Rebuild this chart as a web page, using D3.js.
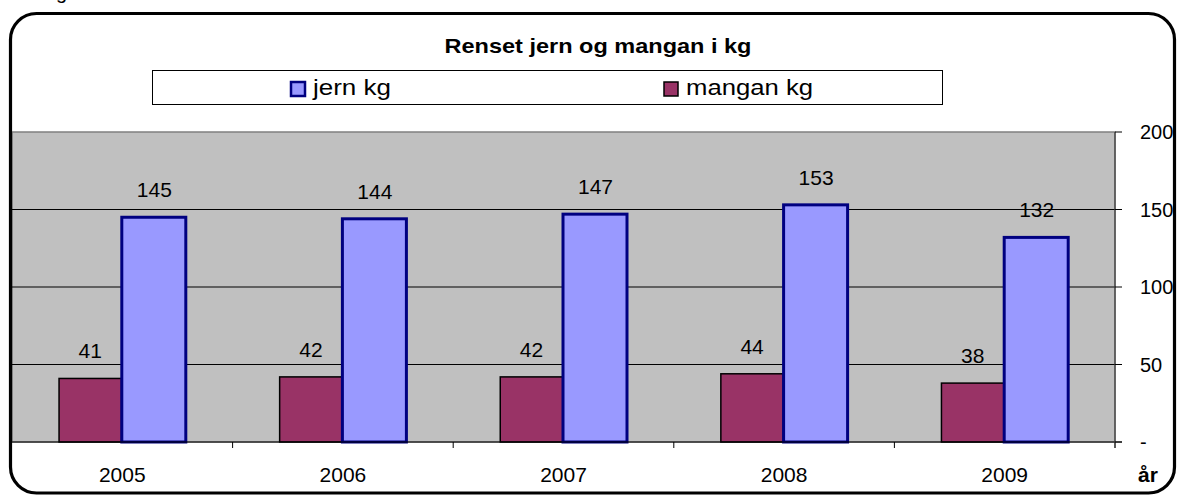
<!DOCTYPE html>
<html lang="en">
<head>
<meta charset="utf-8">
<title>Renset jern og mangan i kg</title>
<script src="https://d3js.org/d3.v7.min.js"></script>
<style>
  body { margin: 0; background: #fff; }
  svg text { font-family: "Liberation Sans", Arial, sans-serif; fill: #000; }
</style>
</head>
<body>
<script>
// data
var years = ["2005", "2006", "2007", "2008", "2009"];
var mangan = [41, 42, 42, 44, 38];
var jern = [145, 144, 147, 153, 132];
var seriesNames = ["mangan kg", "jern kg"];
var yTicks = [0, 50, 100, 150, 200];

var W = 1177, H = 496;
var plot = {left: 12, right: 1115, top: 132, bottom: 442};

var svg = d3.select("body").append("svg")
    .attr("width", W).attr("height", H);

// stray descender from text above the chart
svg.append("text").attr("x", 56).attr("y", -1)
    .style("font-size", "20px").text("g");

var x0 = d3.scaleBand().domain(years).range([plot.left, plot.right]).padding(0);
var barW = 64;
var x1 = d3.scaleBand().domain(seriesNames).range([0, barW * 2]).padding(0);
var y = d3.scaleLinear().domain([0, 200]).range([plot.bottom, plot.top]);

// plot background
svg.append("rect")
    .attr("x", plot.left).attr("y", plot.top)
    .attr("width", plot.right - plot.left).attr("height", plot.bottom - plot.top)
    .attr("fill", "#c0c0c0")
    .attr("stroke", "#808080").attr("stroke-width", 1.5);

// gridlines
svg.selectAll(".grid")
    .data(yTicks.filter(function(d) { return d > 0 && d < 200; }))
    .enter().append("line")
    .attr("x1", plot.left).attr("x2", plot.right)
    .attr("y1", function(d) { return y(d); })
    .attr("y2", function(d) { return y(d); })
    .attr("stroke", "#000").attr("stroke-width", 1);

var rows = years.map(function(yr, i) {
    return {year: yr, values: [
        {key: "mangan kg", v: mangan[i]},
        {key: "jern kg", v: jern[i]}
    ]};
});

var groups = svg.selectAll(".grp").data(rows).enter().append("g")
    .attr("transform", function(d) {
        return "translate(" + (x0(d.year) + x0.bandwidth() / 2 - barW) + ",0)";
    });

groups.selectAll("rect").data(function(d) { return d.values; })
    .enter().append("rect")
    .attr("x", function(d) { return x1(d.key) + (d.key === "jern kg" ? -0.5 : 0.75); })
    .attr("width", function(d) { return d.key === "jern kg" ? barW : barW - 1.5; })
    .attr("y", function(d) { return y(d.v); })
    .attr("height", function(d) { return y(0) - y(d.v); })
    .attr("fill", function(d) { return d.key === "jern kg" ? "#9999ff" : "#993366"; })
    .attr("stroke", function(d) { return d.key === "jern kg" ? "#000080" : "#000"; })
    .attr("stroke-width", function(d) { return d.key === "jern kg" ? 3 : 1.5; });

groups.selectAll(".lbl").data(function(d) { return d.values; })
    .enter().append("text")
    .attr("class", "lbl")
    .attr("x", function(d) { return x1(d.key) + barW / 2; })
    .attr("y", function(d) { return y(d.v) - 20; })
    .attr("text-anchor", "middle")
    .style("font-size", "21px")
    .text(function(d) { return d.v; });

// bottom axis line + ticks
svg.append("line")
    .attr("x1", plot.left).attr("x2", plot.right + 7)
    .attr("y1", plot.bottom).attr("y2", plot.bottom)
    .attr("stroke", "#000").attr("stroke-width", 1.2);
var bounds = years.map(function(d) { return x0(d); }).concat([plot.right]);
svg.selectAll(".xtick").data(bounds.slice(1)).enter().append("line")
    .attr("x1", function(d) { return d; }).attr("x2", function(d) { return d; })
    .attr("y1", plot.bottom).attr("y2", plot.bottom + 6)
    .attr("stroke", "#000").attr("stroke-width", 1);

svg.selectAll(".xlab").data(years).enter().append("text")
    .attr("x", function(d) { return x0(d) + x0.bandwidth() / 2; })
    .attr("y", 482)
    .attr("text-anchor", "middle")
    .style("font-size", "21px")
    .text(function(d) { return d; });

svg.append("text").attr("x", 1138).attr("y", 482)
    .style("font-size", "21px").style("font-weight", "bold")
    .text("år");

// right axis
svg.append("line")
    .attr("x1", plot.right).attr("x2", plot.right)
    .attr("y1", plot.top).attr("y2", plot.bottom + 6)
    .attr("stroke", "#404040").attr("stroke-width", 1.2);
svg.selectAll(".ytick").data(yTicks).enter().append("line")
    .attr("x1", plot.right).attr("x2", plot.right + 7)
    .attr("y1", function(d) { return y(d); })
    .attr("y2", function(d) { return y(d); })
    .attr("stroke", "#000").attr("stroke-width", 1);
svg.selectAll(".ylab").data(yTicks).enter().append("text")
    .attr("x", 1140)
    .attr("y", function(d) { return y(d) + 7; })
    .style("font-size", "20px")
    .text(function(d) { return d === 0 ? "-" : d; });

// title
svg.append("text").attr("x", 598).attr("y", 53)
    .attr("text-anchor", "middle")
    .attr("textLength", 307).attr("lengthAdjust", "spacingAndGlyphs")
    .style("font-size", "21px").style("font-weight", "bold")
    .text("Renset jern og mangan i kg");

// legend
svg.append("rect").attr("x", 152.5).attr("y", 70.5)
    .attr("width", 790).attr("height", 34)
    .attr("fill", "#fff").attr("stroke", "#000").attr("stroke-width", 1);
var legendItems = [
    {key: "jern kg", x: 290, fill: "#9999ff", stroke: "#000080", sw: 2.5, tl: 78},
    {key: "mangan kg", x: 663, fill: "#993366", stroke: "#000", sw: 1.5, tl: 127}
];
var lg = svg.selectAll(".leg").data(legendItems).enter().append("g");
lg.append("rect")
    .attr("x", function(d) { return d.x + 1; }).attr("y", 82)
    .attr("width", 14).attr("height", 14)
    .attr("fill", function(d) { return d.fill; })
    .attr("stroke", function(d) { return d.stroke; })
    .attr("stroke-width", function(d) { return d.sw; });
lg.append("text")
    .attr("x", function(d) { return d.x + 23; }).attr("y", 95)
    .attr("textLength", function(d) { return d.tl; })
    .attr("lengthAdjust", "spacingAndGlyphs")
    .style("font-size", "22px")
    .text(function(d) { return d.key; });

// outer rounded frame
svg.append("rect").attr("x", 10.5).attr("y", 13.5)
    .attr("width", 1164).attr("height", 479.5)
    .attr("rx", 26).attr("ry", 26)
    .attr("fill", "none").attr("stroke", "#000").attr("stroke-width", 3.2);
</script>
</body>
</html>
